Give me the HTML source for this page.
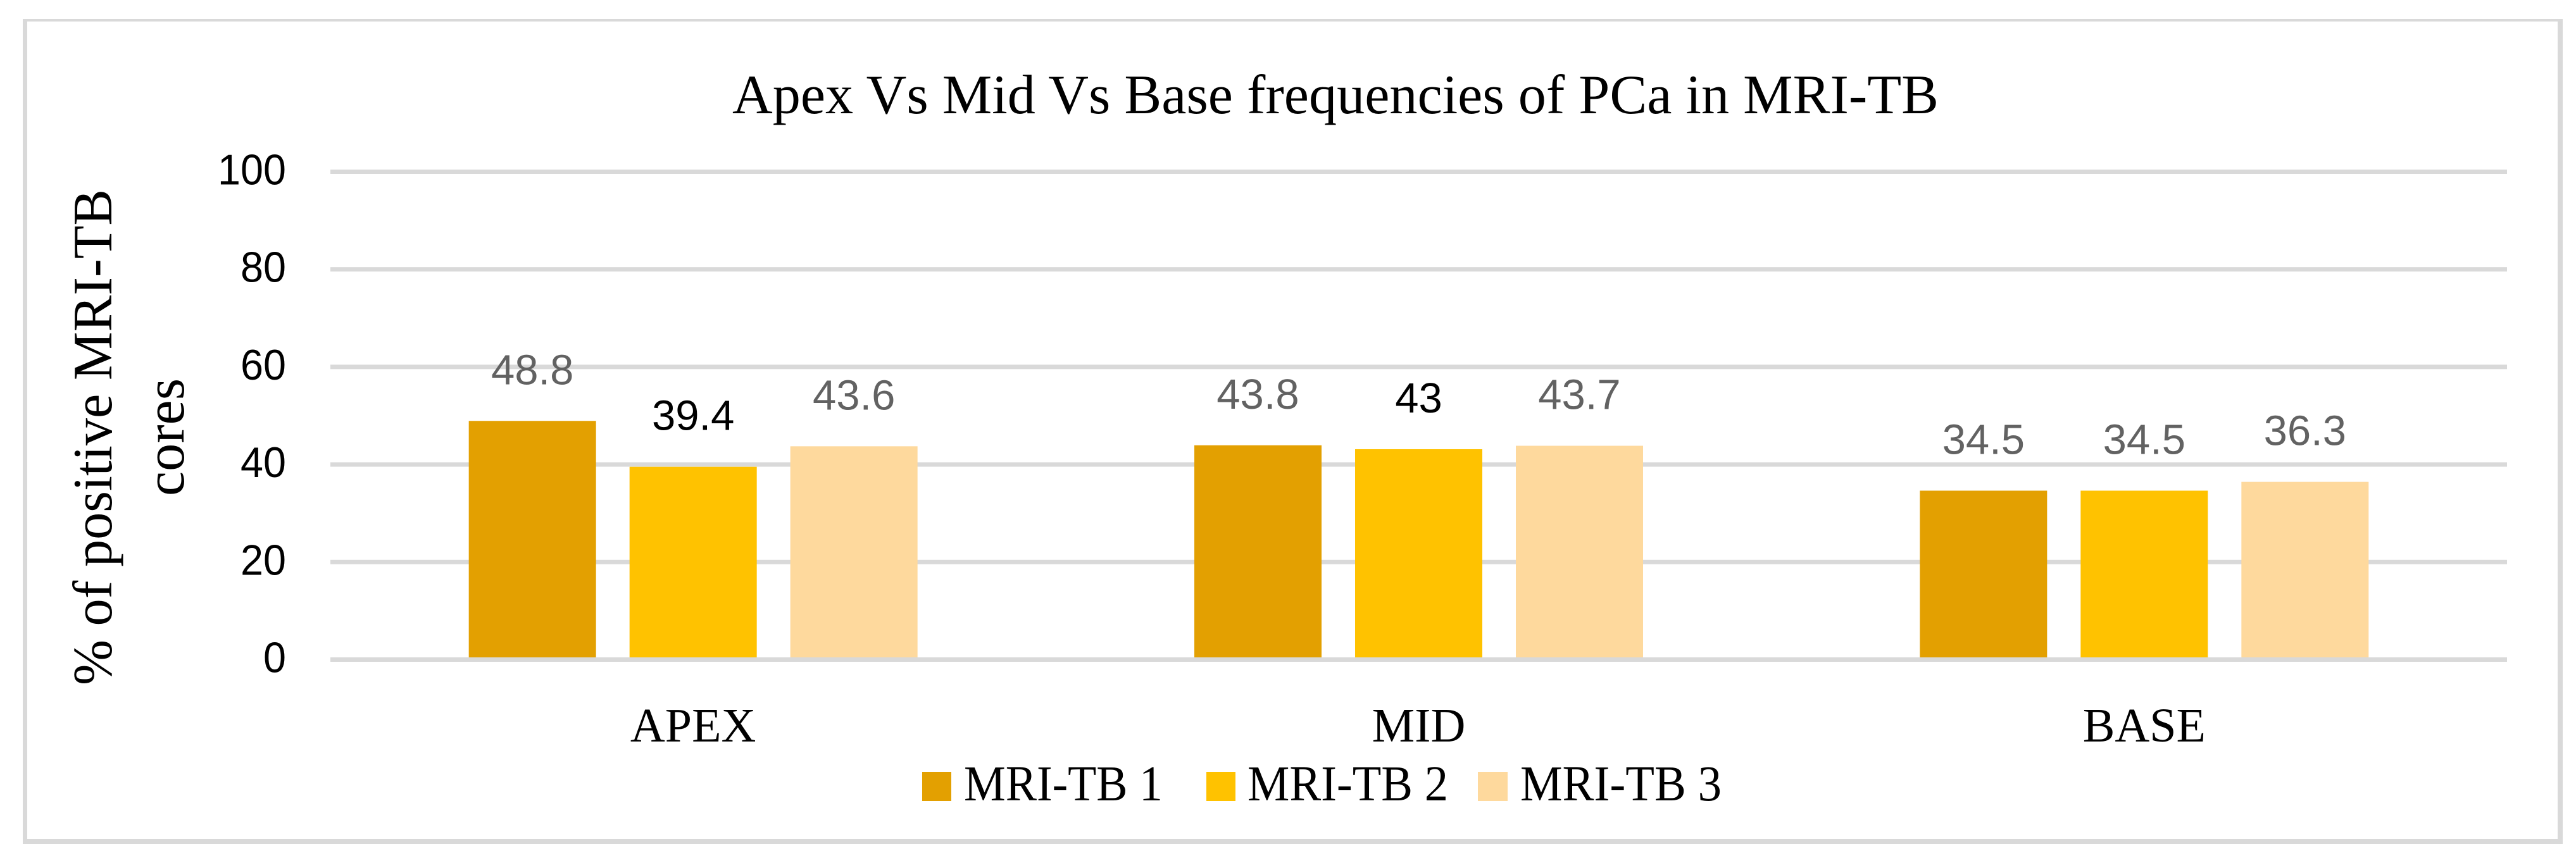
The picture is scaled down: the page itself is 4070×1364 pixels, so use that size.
<!DOCTYPE html>
<html lang="en">
<head>
<meta charset="utf-8">
<title>Apex Vs Mid Vs Base frequencies of PCa in MRI-TB</title>
<style>
html,body{margin:0;padding:0;background:#fff;}
svg{display:block;}
.serif{font-family:"Liberation Serif",serif;fill:#000;}
.sans{font-family:"Liberation Sans",sans-serif;}
</style>
</head>
<body>
<svg id="chart" xmlns="http://www.w3.org/2000/svg" width="4070" height="1364" viewBox="0 0 4070 1364">
  <rect x="0" y="0" width="4070" height="1364" fill="#ffffff"/>
  <g fill="#d9d9d9">
    <rect x="36" y="30" width="4013" height="4"/>
    <rect x="36" y="1326" width="4013" height="8"/>
    <rect x="36" y="30" width="7" height="1304"/>
    <rect x="4041" y="30" width="8" height="1304"/>
  </g>
  <text class="serif" x="2110" y="179" font-size="88" text-anchor="middle" textLength="1906" lengthAdjust="spacingAndGlyphs">Apex Vs Mid Vs Base frequencies of PCa in MRI-TB</text>
  <g>
    <text class="serif" font-size="88" text-anchor="middle" transform="translate(176 691) rotate(-90)" textLength="784" lengthAdjust="spacingAndGlyphs">% of positive MRI-TB</text>
    <text class="serif" font-size="88" text-anchor="middle" transform="translate(290 691) rotate(-90)" textLength="186" lengthAdjust="spacingAndGlyphs">cores</text>
  </g>
  <g id="grid"></g>
  <g id="y-ticks"></g>
  <g id="bars"></g>
  <g id="baseline"></g>
  <g id="bar-labels"></g>
  <g id="x-ticks"></g>
  <g>
    <g>
      <rect x="1457" y="1220" width="46" height="46" fill="#e3a001"/>
      <text class="serif" x="1523" y="1265" font-size="79" textLength="314" lengthAdjust="spacingAndGlyphs">MRI-TB 1</text>
    </g>
    <g>
      <rect x="1906" y="1220" width="46" height="46" fill="#ffc200"/>
      <text class="serif" x="1971" y="1265" font-size="79" textLength="317" lengthAdjust="spacingAndGlyphs">MRI-TB 2</text>
    </g>
    <g>
      <rect x="2335" y="1220" width="47" height="46" fill="#fed99d"/>
      <text class="serif" x="2402" y="1265" font-size="79" textLength="318" lengthAdjust="spacingAndGlyphs">MRI-TB 3</text>
    </g>
  </g>
</svg>
<script>
const categories = ["APEX", "MID", "BASE"];
const seriesNames = ["MRI-TB 1", "MRI-TB 2", "MRI-TB 3"];
const mriTb1 = [48.8, 43.8, 34.5];
const mriTb2 = [39.4, 43, 34.5];
const mriTb3 = [43.6, 43.7, 36.3];
const yTickLabels = [0, 20, 40, 60, 80, 100];

const SVG_NS = "http://www.w3.org/2000/svg";
const allSeries = [mriTb1, mriTb2, mriTb3];
const seriesFill = ["#e3a001", "#ffc200", "#fed99d"];

const plotLeft = 522, plotRight = 3961;
const zeroY = 1042.5, pxPerUnit = 7.71;
const gridThickness = 7, barWidth = 201, barPitch = 254;

function yScale(v) { return zeroY - v * pxPerUnit; }
function xCategory(i) { return plotLeft + (i + 0.5) * (plotRight - plotLeft) / categories.length; }
function xBarCentre(c, s) { return xCategory(c) + (s - (allSeries.length - 1) / 2) * barPitch; }

function make(tag, parentId) {
  const el = document.createElementNS(SVG_NS, tag);
  document.getElementById(parentId).appendChild(el);
  return el;
}
function slug(t) { return String(t).toLowerCase().replace(/[^a-z0-9]+/g, "-"); }

yTickLabels.forEach(function (t) {
  const parent = t === 0 ? "baseline" : "grid";
  const line = make("rect", parent);
  
  
  line.setAttribute("x", plotLeft);
  line.setAttribute("y", yScale(t) - gridThickness / 2);
  line.setAttribute("width", plotRight - plotLeft);
  line.setAttribute("height", gridThickness);
  line.setAttribute("fill", "#d9d9d9");

  const label = make("text", "y-ticks");
  
  
  label.setAttribute("class", "sans");
  label.setAttribute("x", 452);
  label.setAttribute("y", yScale(t) + 20);
  label.setAttribute("font-size", 68);
  label.setAttribute("text-anchor", "end");
  label.setAttribute("textLength", String(t).length * 36);
  label.setAttribute("lengthAdjust", "spacingAndGlyphs");
  label.setAttribute("fill", "#000");
  label.textContent = t;
});

categories.forEach(function (cat, c) {
  allSeries.forEach(function (values, s) {
    const v = values[c];
    const top = yScale(v) - 1;
    const bottom = zeroY - gridThickness / 2;
    const bar = make("rect", "bars");
    
    
    bar.setAttribute("x", xBarCentre(c, s) - barWidth / 2);
    bar.setAttribute("y", top);
    bar.setAttribute("width", barWidth);
    bar.setAttribute("height", bottom - top);
    bar.setAttribute("fill", seriesFill[s]);

    const label = make("text", "bar-labels");
    
    
    label.setAttribute("class", "sans");
    label.setAttribute("x", xBarCentre(c, s));
    label.setAttribute("y", top - 58);
    label.setAttribute("font-size", 67);
    label.setAttribute("text-anchor", "middle");
    label.setAttribute("fill", (s === 1 && c < 2) ? "#000" : "#626262");
    label.textContent = v;
  });

  const tick = make("text", "x-ticks");
  
  
  tick.setAttribute("class", "serif");
  tick.setAttribute("x", xCategory(c));
  tick.setAttribute("y", 1172);
  tick.setAttribute("font-size", 76);
  tick.setAttribute("text-anchor", "middle");
  tick.textContent = cat;
});
</script>
</body>
</html>
